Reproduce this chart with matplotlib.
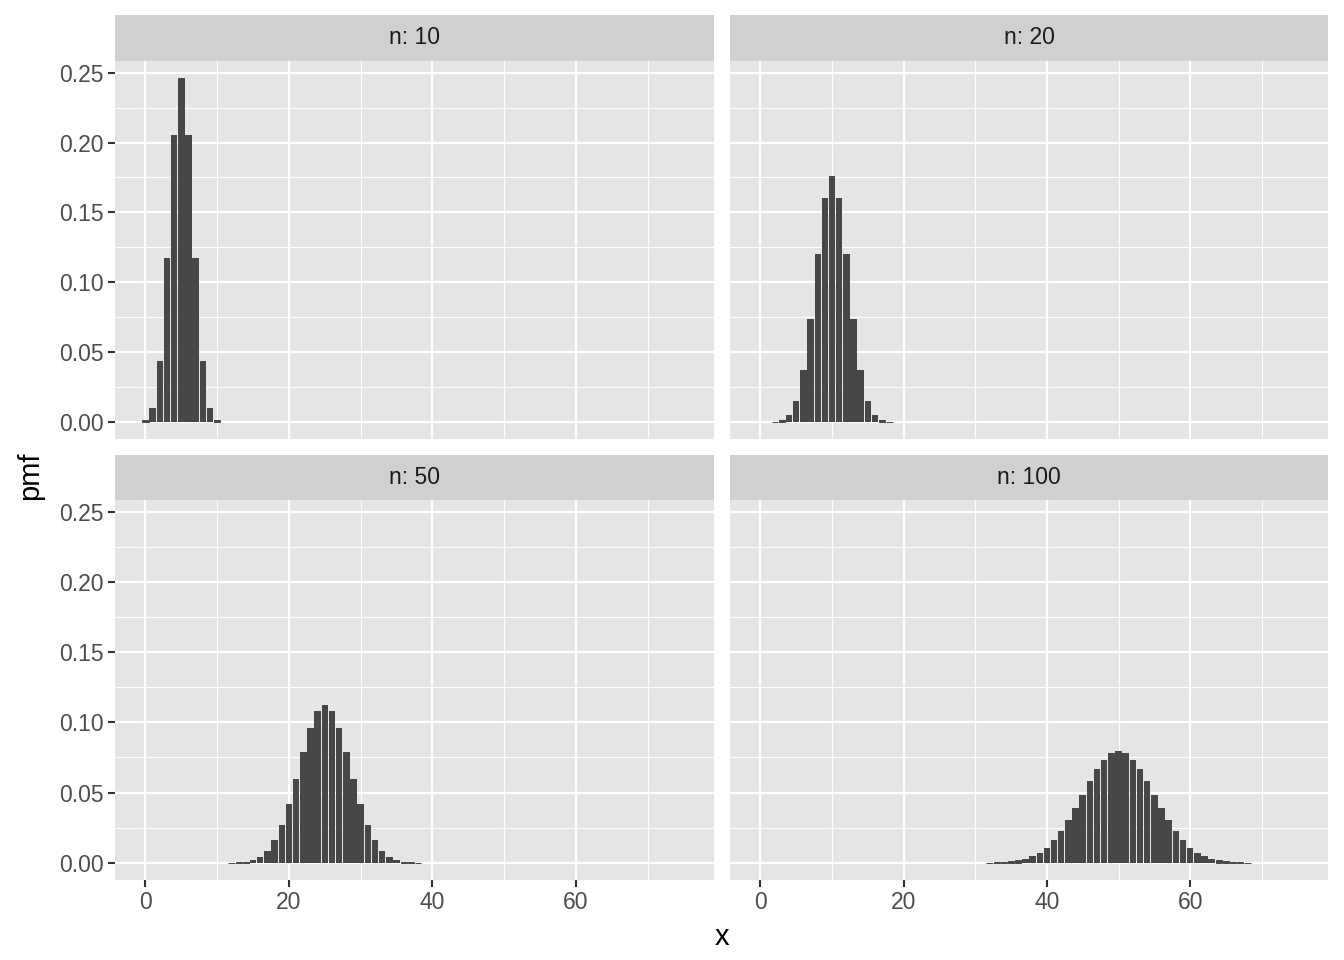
import matplotlib
matplotlib.use("Agg")
from matplotlib import pyplot as plt
from matplotlib.ticker import MultipleLocator, FormatStrFormatter

plt.rcParams["font.family"] = ["Liberation Sans", "DejaVu Sans"]

# facet labels
panel_labels = ["n: 10", "n: 20", "n: 50", "n: 100"]

# first x value of each series, then pmf values
x_start = [0, 2, 12, 32]
pmf_n10 = [0.00098, 0.0098, 0.0439, 0.1172, 0.2051, 0.2461, 0.2051, 0.1172,
           0.0439, 0.0098, 0.00098]
pmf_n20 = [0.0002, 0.0011, 0.0046, 0.0148, 0.0370, 0.0739, 0.1201, 0.1602,
           0.1762, 0.1602, 0.1201, 0.0739, 0.0370, 0.0148, 0.0046, 0.0011,
           0.0002]
pmf_n50 = [0.0001, 0.0003, 0.0008, 0.0020, 0.0044, 0.0087, 0.0160, 0.0270,
           0.0419, 0.0598, 0.0788, 0.0960, 0.1080, 0.1123, 0.1080, 0.0960,
           0.0788, 0.0598, 0.0419, 0.0270, 0.0160, 0.0087, 0.0044, 0.0020,
           0.0008, 0.0003, 0.0001]
pmf_n100 = [0.0001, 0.0002, 0.0005, 0.0009, 0.0016, 0.0027, 0.0045, 0.0071,
            0.0108, 0.0159, 0.0223, 0.0301, 0.0390, 0.0485, 0.0580, 0.0666,
            0.0735, 0.0780, 0.0796, 0.0780, 0.0735, 0.0666, 0.0580, 0.0485,
            0.0390, 0.0301, 0.0223, 0.0159, 0.0108, 0.0071, 0.0045, 0.0027,
            0.0016, 0.0009, 0.0005, 0.0002, 0.0001]
series = [pmf_n10, pmf_n20, pmf_n50, pmf_n100]

x_ticks = [0, 20, 40, 60]
y_ticks = [0.00, 0.05, 0.10, 0.15, 0.20, 0.25]

W, H = 1344, 960
fig = plt.figure(figsize=(W / 100, H / 100), dpi=100)

# panel boxes in pixels
cols = [(115, 714), (730, 1328)]
rows = [(15, 61, 439), (455, 500, 880)]
bar_col = "#474747"

def px_axes(l, t, r, b):
    return fig.add_axes([l / W, 1 - b / H, (r - l) / W, (b - t) / H])

for i, (label, pmf) in enumerate(zip(panel_labels, series)):
    (l, r) = cols[i % 2]
    (st, pt, pb) = rows[i // 2]

    # strip on top of each panel
    sax = px_axes(l, st, r, pt)
    sax.set_facecolor("#D0D0D0")
    sax.set_xticks([])
    sax.set_yticks([])
    for s in sax.spines.values():
        s.set_visible(False)
    sax.text(0.5, 0.5, label, ha="center", va="center", fontsize=16.5,
             color="#1A1A1A", transform=sax.transAxes)

    ax = px_axes(l, pt, r, pb)
    ax.set_facecolor("#E5E5E5")
    xs = [x_start[i] + k for k in range(len(pmf))]
    # very small bars still show as a thin line in the reference
    lws = [0.7 if v < 0.002 else 0 for v in pmf]
    ax.bar(xs, pmf, width=0.9, color=bar_col, edgecolor=bar_col,
           linewidth=lws, zorder=3)
    ax.set_xlim(-4.25, 79.25)
    ax.set_ylim(-0.0123, 0.2584)
    ax.set_xticks(x_ticks)
    ax.set_yticks(y_ticks)
    ax.xaxis.set_minor_locator(MultipleLocator(10))
    ax.yaxis.set_minor_locator(MultipleLocator(0.025))
    ax.grid(which="major", color="white", linewidth=1.6, zorder=1)
    ax.grid(which="minor", color="white", linewidth=0.8, zorder=1)
    ax.set_axisbelow(True)
    for s in ax.spines.values():
        s.set_visible(False)
    ax.tick_params(which="minor", length=0)
    ax.tick_params(which="major", length=5, width=1.5, color="#333333",
                   labelsize=16.5, labelcolor="#4D4D4D", pad=3)
    ax.yaxis.set_major_formatter(FormatStrFormatter("%.2f"))
    if i % 2 == 1:
        ax.tick_params(axis="y", left=False, labelleft=False)
    if i // 2 == 0:
        ax.tick_params(axis="x", bottom=False, labelbottom=False)

fig.text(722 / W, 1 - 937 / H, "x", ha="center", va="center", fontsize=21,
         color="black")
fig.text(30 / W, 1 - 476 / H, "pmf", ha="center", va="center", fontsize=21,
         color="black", rotation=90)

fig.savefig("out.png", dpi=100)
